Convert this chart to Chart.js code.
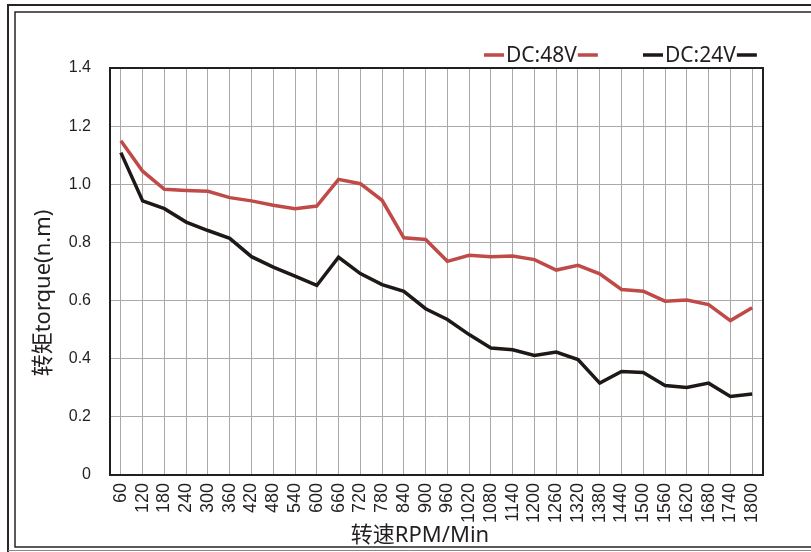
<!DOCTYPE html>
<html>
<head>
<meta charset="utf-8">
<script src="https://cdn.jsdelivr.net/npm/chart.js@4/dist/chart.umd.min.js"></script>
<style>
  html,body{margin:0;padding:0;background:#fff;}
  #wrap{width:811px;height:552px;position:relative;}
</style>
</head>
<body>
<div id="wrap"><canvas id="grafica" width="811" height="552"></canvas></div>
<script>
// datos
const rpm = [60,120,180,240,300,360,420,480,540,600,660,720,780,840,900,960,1020,1080,1140,1200,1260,1320,1380,1440,1500,1560,1620,1680,1740,1800];
const dc48 = [1.15,1.045,0.983,0.979,0.976,0.954,0.943,0.928,0.916,0.925,1.017,1.002,0.945,0.816,0.810,0.735,0.756,0.751,0.753,0.741,0.705,0.721,0.692,0.638,0.632,0.598,0.602,0.586,0.531,0.575];
const dc24 = [1.109,0.943,0.916,0.870,0.841,0.814,0.751,0.715,0.684,0.652,0.749,0.693,0.655,0.632,0.572,0.535,0.483,0.437,0.431,0.411,0.423,0.397,0.316,0.356,0.353,0.308,0.301,0.316,0.270,0.279];
const serieNombres = ['DC:48V','DC:24V'];
const serieColores = ['#bf4a47','#1e1917'];
const tituloX = '转速RPM/Min';
const tituloY = '转矩torque(n.m)';

const FUENTE = '"Noto Sans", "Noto Sans CJK SC", sans-serif';

// marco doble, borde del área, leyenda y títulos
const decoracion = {
  id: 'decoracion',
  beforeDraw(chart){
    const c = chart.ctx;
    c.save();
    c.strokeStyle = '#2b2424';
    c.lineWidth = 2;
    c.beginPath();
    c.moveTo(8, 552); c.lineTo(8, 5); c.lineTo(811, 5);
    c.stroke();
    c.lineWidth = 1.5;
    c.beginPath();
    c.moveTo(811, 12); c.lineTo(15, 12); c.lineTo(15, 547); c.lineTo(811, 547);
    c.stroke();
    c.strokeStyle = '#888';
    c.lineWidth = 1;
    c.beginPath();
    c.moveTo(8, 550.5); c.lineTo(811, 550.5);
    c.stroke();
    c.restore();
  },
  afterDraw(chart){
    const c = chart.ctx;
    const a = chart.chartArea;
    c.save();
    c.strokeStyle = '#231f20';
    c.lineWidth = 2;
    c.strokeRect(a.left, a.top, a.right - a.left, a.bottom - a.top);

    // leyenda: línea - texto - línea
    c.font = '21px ' + FUENTE;
    c.textBaseline = 'middle';
    c.textAlign = 'left';
    const posiciones = [484, 643];
    chart.data.datasets.forEach((ds, i) => {
      const x0 = posiciones[i];
      const w = c.measureText(ds.label).width;
      c.strokeStyle = ds.borderColor;
      c.lineWidth = 3.5;
      c.beginPath();
      c.moveTo(x0, 55); c.lineTo(x0 + 20, 55);
      c.moveTo(x0 + 23 + w, 55); c.lineTo(x0 + 43 + w, 55);
      c.stroke();
      c.fillStyle = '#231f20';
      c.fillText(ds.label, x0 + 22, 56);
    });

    // títulos de ejes
    c.font = '22px ' + FUENTE;
    c.fillStyle = '#231f20';
    c.textAlign = 'center';
    c.fillText(tituloX, 420, 536);
    c.translate(44, 293);
    c.rotate(-Math.PI / 2);
    c.fillText(tituloY, 0, 0);
    c.restore();
  }
};

new Chart(document.getElementById('grafica'), {
  type: 'line',
  data: {
    labels: rpm,
    datasets: [
      { label: serieNombres[0], data: dc48, borderColor: serieColores[0], backgroundColor: serieColores[0], borderWidth: 3.5, pointRadius: 0, tension: 0 },
      { label: serieNombres[1], data: dc24, borderColor: serieColores[1], backgroundColor: serieColores[1], borderWidth: 3.5, pointRadius: 0, tension: 0 }
    ]
  },
  options: {
    responsive: false,
    animation: false,
    layout: { padding: { left: 0, top: 68, right: 48, bottom: 0 } },
    plugins: { legend: { display: false }, tooltip: { enabled: false } },
    scales: {
      x: {
        offset: true,
        afterFit(s){ s.height = 77; },
        grid: { color: '#a9a9a9', lineWidth: 1, drawTicks: false, offset: false },
        border: { display: false },
        ticks: {
          autoSkip: false,
          minRotation: 90,
          maxRotation: 90,
          padding: 8,
          color: '#231f20',
          font: { family: '"Liberation Sans", Arial, sans-serif', size: 18 }
        }
      },
      y: {
        min: 0,
        max: 1.4,
        afterFit(s){ s.width = 110; },
        grid: { color: '#a9a9a9', lineWidth: 1, drawTicks: false },
        border: { display: false },
        ticks: {
          stepSize: 0.2,
          padding: 19,
          color: '#231f20',
          font: { family: '"Liberation Sans Narrow", "Arial Narrow", "Liberation Sans", sans-serif', size: 16 },
          callback: v => v === 0 ? '0' : v.toFixed(1)
        }
      }
    }
  },
  plugins: [decoracion]
});
</script>
</body>
</html>
